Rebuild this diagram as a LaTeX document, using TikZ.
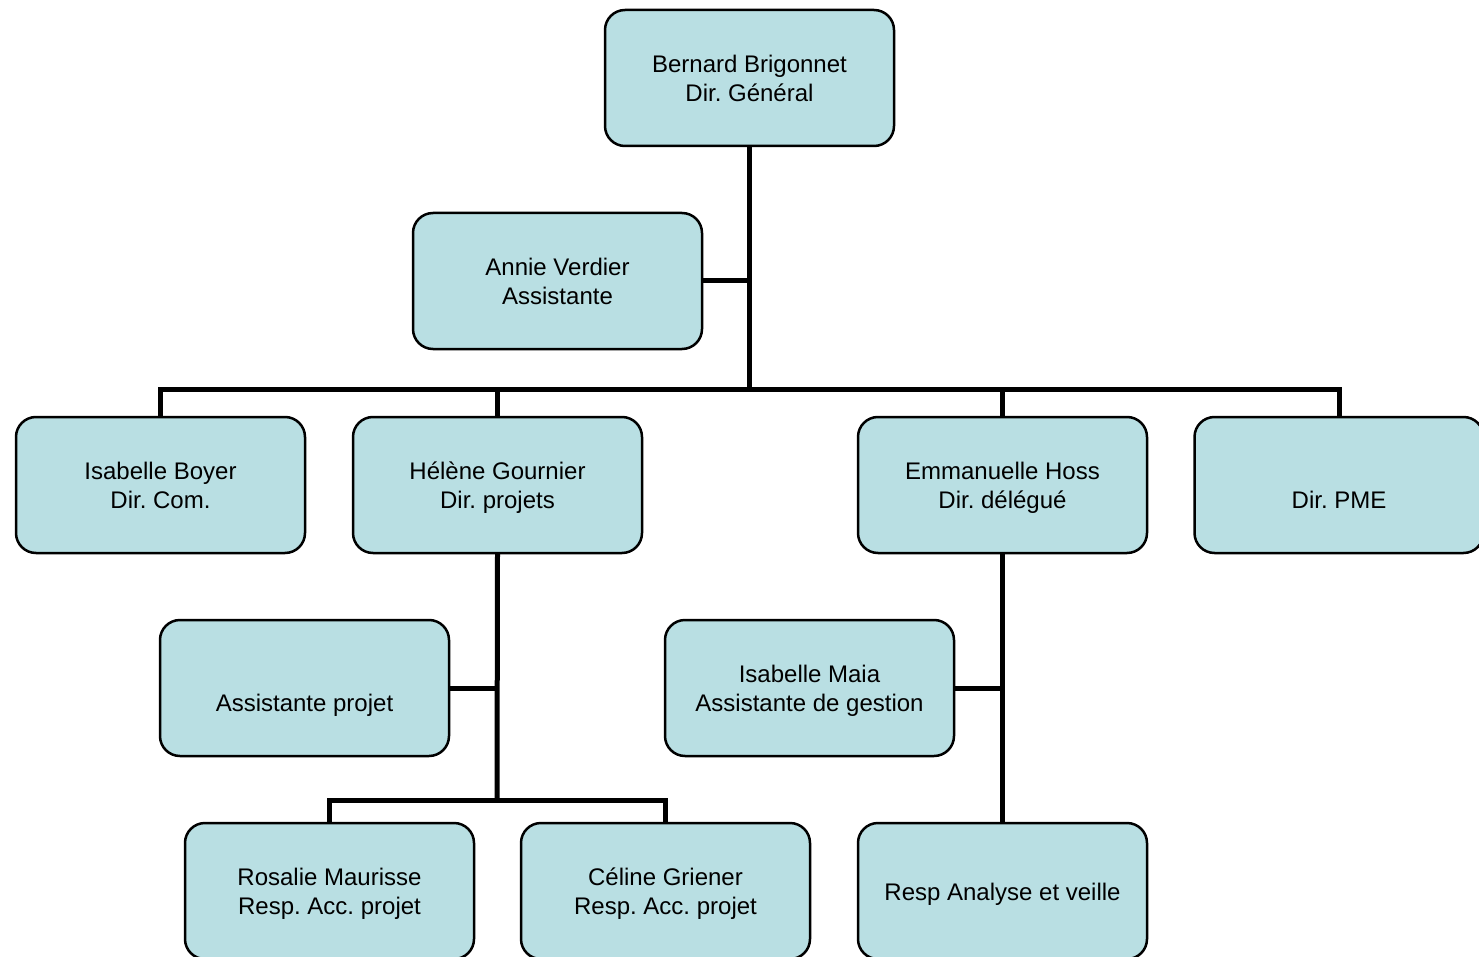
\documentclass[tikz,border=0pt]{standalone}
\usepackage{fontspec}
\setmainfont{Liberation Sans}
\frenchspacing
\definecolor{boxfill}{HTML}{B9DFE3}
\tikzset{
  person/.style={draw=black, line width=2.5pt, fill=boxfill, rounded corners=20pt,
    minimum width=289pt, minimum height=136pt, inner sep=0pt, align=center,
    font=\fontsize{24pt}{29pt}\selectfont\frenchspacing,
    text height=60pt, text depth=13pt},
  oneline/.style={text height=28pt, text depth=13pt},
  conn/.style={draw=black, line width=5pt}
}
\begin{document}
\begin{tikzpicture}[x=1pt,y=-1pt]
\useasboundingbox (0,0) rectangle (1479,957);
\fill[white] (0,0) rectangle (1479,957);
% coordinates for bars
\coordinate (bar) at (749,389);
\coordinate (hb) at (497,800);
% connectors (drawn first)
\coordinate (topS) at (749,146);
\draw[conn] (topS) -- (bar);
\draw[conn] (702,281) coordinate (annE) -- (annE -| bar);
\draw[conn] (160.5,417) coordinate (boyN) |- (bar) -| (1339,417) coordinate (pmeN);
\draw[conn] (497.5,417) coordinate (helN) -- (helN |- bar);
\draw[conn] (1002.5,417) coordinate (emmN) -- (emmN |- bar);
\draw[conn] (497.5,553) coordinate (helS) -- (hb);
\draw[conn] (449,688) coordinate (aspE) -- (aspE -| hb);
\draw[conn] (329.5,823) coordinate (rosN) |- (hb) -| (665.5,823) coordinate (celN);
\draw[conn] (1002.5,553) coordinate (emmS) -- (1002.5,823) coordinate (resN);
\draw[conn] (954,688) coordinate (maiE) -- (maiE -| emmS);
% boxes
\node[person] (top) at (749.5,78) {Bernard Brigonnet\\Dir. Général};
\node[person] (annie) at (557.5,281) {Annie Verdier\\Assistante};
\node[person] (boyer) at (160.5,485) {Isabelle Boyer\\Dir. Com.};
\node[person] (helene) at (497.5,485) {Hélène Gournier\\Dir. projets};
\node[person] (emma) at (1002.5,485) {Emmanuelle Hoss\\Dir. délégué};
\node[person] (pme) at (1339,485) {Dir. PME};
\node[person] (asp) at (304.5,688) {Assistante projet};
\node[person] (maia) at (809.5,688) {Isabelle Maia\\Assistante de gestion};
\node[person] (ros) at (329.5,891) {Rosalie Maurisse\\Resp. Acc. projet};
\node[person] (cel) at (665.5,891) {Céline Griener\\Resp. Acc. projet};
\node[person, text height=23pt, text depth=5pt] (resp) at (1002.5,891) {Resp Analyse et veille};
\end{tikzpicture}
\end{document}
